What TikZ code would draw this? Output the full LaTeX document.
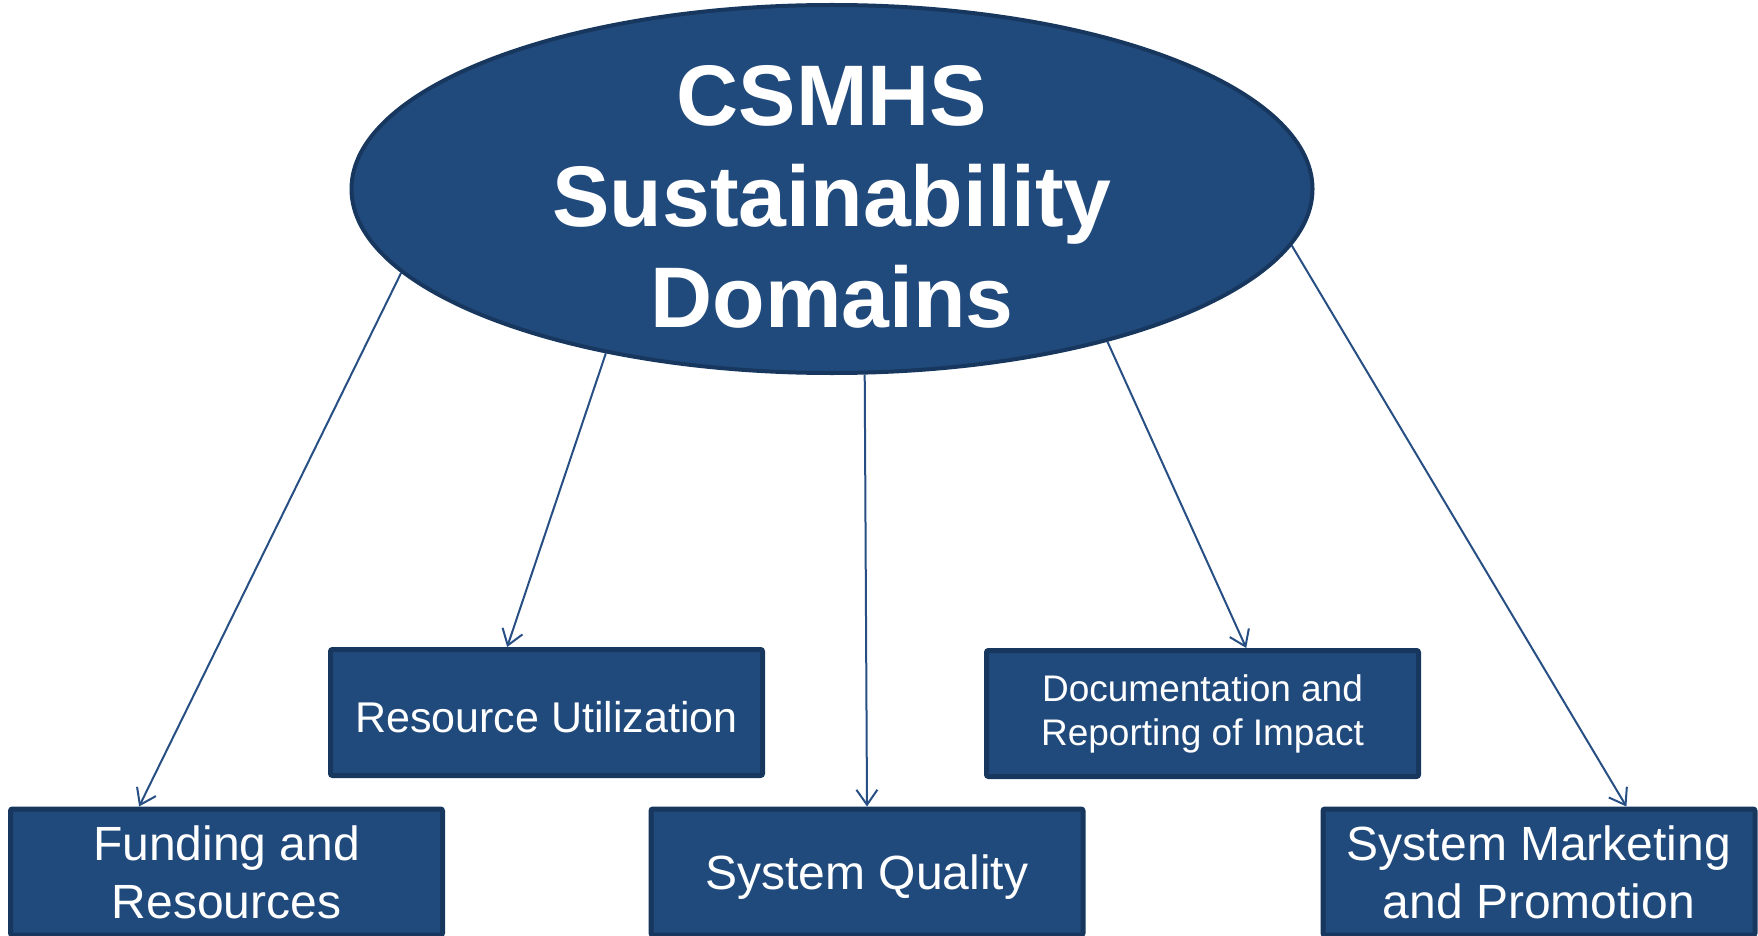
\documentclass[tikz,border=0pt]{standalone}
\usepackage{fontspec}
\setmainfont{Liberation Sans}
\usepackage{xcolor}
\usepackage{tikz}
\usetikzlibrary{shapes.geometric, arrows.meta, calc}
\definecolor{domainblue}{HTML}{214A7C}
\definecolor{domainedge}{HTML}{17375E}
\definecolor{arrowblue}{HTML}{274F84}

\begin{document}
\begin{tikzpicture}[x=1pt, y=-1pt,
    box/.style={draw=domainedge, line width=5pt, fill=domainblue, rounded corners=2pt, minimum width=432pt, minimum height=126pt, inner sep=0pt, align=center, text=white, execute at begin node={\rule{0pt}{0.95em}}},
    arrow/.style={-{Straight Barb[length=15pt, width=21pt]}, line width=2pt, draw=arrowblue}
]
    \useasboundingbox (0,0) rectangle (1758,936);
    \node[ellipse, draw=domainedge, line width=4pt, fill=domainblue, minimum width=961pt, minimum height=368pt, inner sep=0pt] at (832,189) (csmhs) {};
    \node[text=white, align=center, font=\fontsize{86}{101}\selectfont\bfseries] at (832,197) (title) {CSMHS\\Sustainability\\Domains};

    \node[box, font=\fontsize{43}{50}\selectfont] at (546.5,712.5) (resutil) {Resource Utilization};
    \node[box, font=\fontsize{37}{44}\selectfont, execute at begin node={\rule{0pt}{1.2em}}] at (1202.5,713.5) (docrep) {Documentation and\\Reporting of Impact};
    \node[box, font=\fontsize{48}{58}\selectfont] at (226.5,872) (fund) {Funding and\\Resources};
    \node[box, font=\fontsize{48}{58}\selectfont] at (867,872) (quality) {System Quality};
    \node[box, font=\fontsize{48}{58}\selectfont] at (1539,872) (market) {System Marketing\\and Promotion};

    \draw[arrow] (csmhs.191.2) -- ($(fund.north west)!0.3!(fund.north east)$);
    \draw[arrow] (csmhs.216) -- ($(resutil.north west)!0.41!(resutil.north east)$);
    \draw[arrow] (csmhs.280.3) -- (quality.north);
    \draw[arrow] (csmhs.331.7) -- ($(docrep.north west)!0.6!(docrep.north east)$);
    \draw[arrow] (csmhs.353) -- ($(market.north west)!0.7!(market.north east)$);
\end{tikzpicture}
\end{document}
